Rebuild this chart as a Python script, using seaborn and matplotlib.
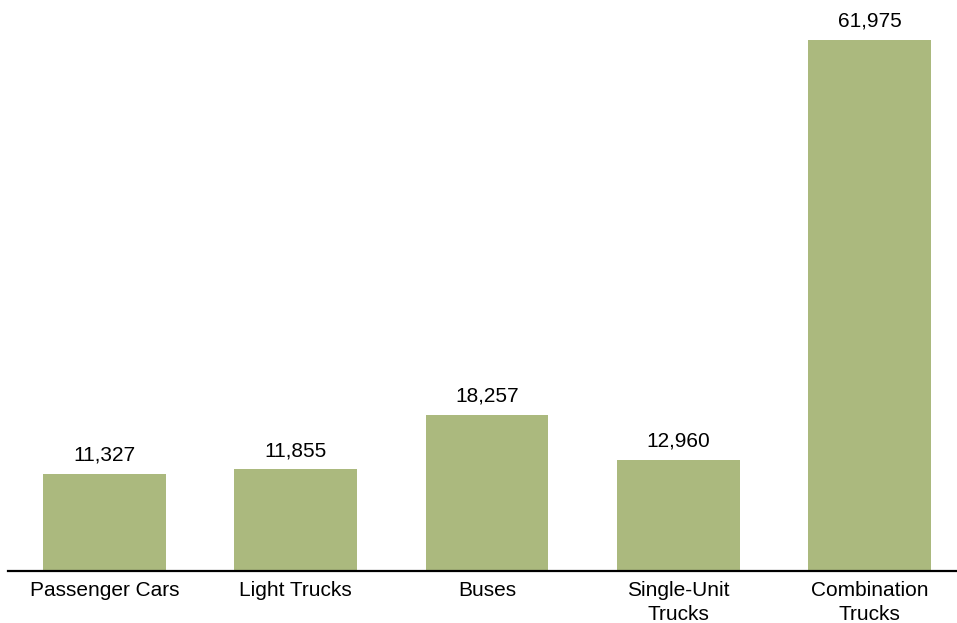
import matplotlib
matplotlib.use("Agg")
import matplotlib.pyplot as plt
import seaborn as sns
import pandas as pd

categories = ["Passenger Cars", "Light Trucks", "Buses", "Single-Unit\nTrucks", "Combination\nTrucks"]
values = [11327, 11855, 18257, 12960, 61975]

sns.set_theme(style="white")
plt.rcParams["font.family"] = ["Liberation Sans", "DejaVu Sans"]

df = pd.DataFrame({"category": categories, "value": values})

fig = plt.figure(figsize=(9.57, 6.23), dpi=100)
ax = fig.add_axes([8 / 957, 52 / 623, 949 / 957, 571 / 623])

sns.barplot(data=df, x="category", y="value", color="#abb97e", saturation=1,
            width=0.643, ax=ax, edgecolor="none")

ax.set_xlim(-0.5046, 4.4575)
ax.set_ylim(0, 66644)

for i, v in enumerate(values):
    ax.annotate(f"{v:,}", xy=(i, v), xytext=(0, 9.4), textcoords="offset points",
                ha="center", va="baseline", fontsize=15, color="#000000")

ax.set_xlabel("")
ax.set_ylabel("")
ax.set_yticks([])
ax.tick_params(axis="x", length=0, pad=7.2, labelsize=15, colors="#000000")
for lbl in ax.get_xticklabels():
    lbl.set_linespacing(1.3)
    lbl.set_verticalalignment("top")

for s in ["top", "right", "left"]:
    ax.spines[s].set_visible(False)
ax.spines["bottom"].set_color("#000000")
ax.spines["bottom"].set_linewidth(1.6)

fig.savefig("out.png", dpi=100)
